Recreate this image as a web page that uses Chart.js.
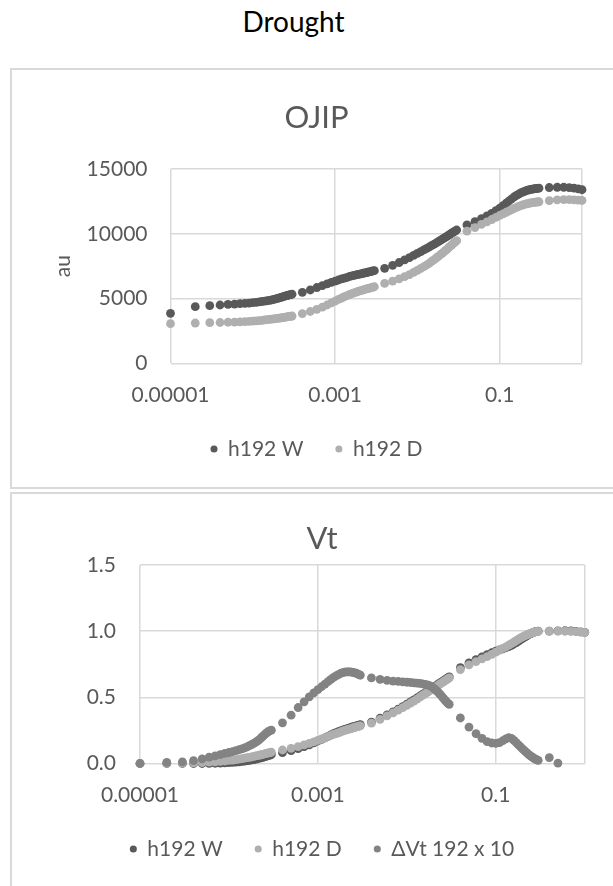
<!DOCTYPE html>
<html>
<head>
<meta charset="utf-8">
<title>Drought</title>
<script src="https://cdn.jsdelivr.net/npm/chart.js@4.4.1/dist/chart.umd.min.js"></script>
<style>
    body { margin: 0; width: 613px; height: 886px; overflow: hidden; background: #fff; position: relative; font-family: Lato, sans-serif; }
    #pageTitle { position: absolute; top: 1px; left: 0; width: 587px; text-align: center; font-size: 28px; line-height: 40px; color: #000; }
    .panel { position: absolute; left: 10px; width: 640px; border: 2px solid #d9d9d9; box-sizing: border-box; }
    #panelTop { top: 68px; height: 421px; }
    #panelBottom { top: 492px; height: 420px; }
    canvas { position: absolute; left: 0; top: 0; }
</style>
</head>
<body>
<div id="pageTitle">Drought</div>
<div class="panel" id="panelTop"><canvas id="ojipChart" width="601" height="417"></canvas></div>
<div class="panel" id="panelBottom"><canvas id="vtChart" width="601" height="392"></canvas></div>

<script>
// time points (s): 10 us steps to 0.3 ms, 0.1 ms to 3 ms, 1 ms to 30 ms, 10 ms to 0.3 s, 0.1 s to 1 s
const timeSec = [
    0.00001, 0.00002, 0.00003, 0.00004, 0.00005, 0.00006, 0.00007, 0.00008, 0.00009,
    0.0001, 0.00011, 0.00012, 0.00013, 0.00014, 0.00015, 0.00016, 0.00017, 0.00018, 0.00019,
    0.0002, 0.00021, 0.00022, 0.00023, 0.00024, 0.00025, 0.00026, 0.00027, 0.00028, 0.00029,
    0.0003,
    0.0004, 0.0005, 0.0006, 0.0007, 0.0008, 0.0009,
    0.001, 0.0011, 0.0012, 0.0013, 0.0014, 0.0015, 0.0016, 0.0017, 0.0018, 0.0019,
    0.002, 0.0021, 0.0022, 0.0023, 0.0024, 0.0025, 0.0026, 0.0027, 0.0028, 0.0029,
    0.003,
    0.004, 0.005, 0.006, 0.007, 0.008, 0.009,
    0.01, 0.011, 0.012, 0.013, 0.014, 0.015, 0.016, 0.017, 0.018, 0.019,
    0.02, 0.021, 0.022, 0.023, 0.024, 0.025, 0.026, 0.027, 0.028, 0.029,
    0.03,
    0.04, 0.05, 0.06, 0.07, 0.08, 0.09,
    0.1, 0.11, 0.12, 0.13, 0.14, 0.15, 0.16, 0.17, 0.18, 0.19,
    0.2, 0.21, 0.22, 0.23, 0.24, 0.25, 0.26, 0.27, 0.28, 0.29,
    0.3,
    0.4, 0.5, 0.6, 0.7, 0.8, 0.9, 1
];

// OJIP fluorescence (au)
const ojipW = [
    3860, 4370, 4450, 4500, 4550, 4570, 4600, 4630, 4650,
    4680, 4710, 4740, 4770, 4800, 4830, 4860, 4900, 4940, 4970,
    5010, 5050, 5090, 5130, 5170, 5200, 5230, 5260, 5290, 5310,
    5330,
    5480, 5660, 5850, 6000, 6130, 6250,
    6350, 6430, 6510, 6580, 6640, 6700, 6750, 6790, 6830, 6860,
    6890, 6920, 6950, 6980, 7000, 7030, 7060, 7080, 7110, 7130,
    7150,
    7330, 7560, 7780, 7980, 8160, 8330,
    8480, 8620, 8750, 8870, 8990, 9100, 9200, 9300, 9400, 9490,
    9580, 9660, 9740, 9820, 9900, 9970, 10040, 10110, 10170, 10230,
    10290,
    10680, 10930, 11170, 11380, 11580, 11780,
    11970, 12170, 12360, 12540, 12700, 12840, 12960, 13060, 13150, 13220,
    13280, 13330, 13370, 13400, 13430, 13450, 13470, 13490, 13500, 13510,
    13520,
    13570, 13590, 13590, 13560, 13520, 13470, 13400
];
const ojipD = [
    3060, 3110, 3140, 3150, 3170, 3180, 3200, 3220, 3240,
    3260, 3280, 3300, 3320, 3350, 3370, 3390, 3410, 3430, 3450,
    3470, 3490, 3510, 3530, 3550, 3560, 3580, 3600, 3620, 3630,
    3650,
    3840, 4000, 4170, 4340, 4500, 4660,
    4800, 4930, 5040, 5140, 5230, 5310, 5380, 5440, 5500, 5550,
    5590, 5630, 5670, 5710, 5740, 5770, 5800, 5830, 5860, 5880,
    5910,
    6170, 6350, 6520, 6690, 6850, 7020,
    7180, 7320, 7460, 7600, 7740, 7880, 8010, 8140, 8260, 8380,
    8490, 8600, 8710, 8820, 8930, 9030, 9130, 9220, 9310, 9390,
    9470,
    10200, 10480, 10720, 10920, 11100, 11260,
    11410, 11540, 11660, 11770, 11870, 11960, 12040, 12110, 12170, 12220,
    12260, 12300, 12330, 12360, 12380, 12400, 12420, 12440, 12450, 12460,
    12470,
    12560, 12610, 12640, 12640, 12620, 12600, 12570
];

// relative variable fluorescence Vt
const vtW = [
    0, 0, 0, 0, 0, 0.001, 0.002, 0.003, 0.005,
    0.007, 0.009, 0.011, 0.013, 0.016, 0.018, 0.021, 0.024, 0.027, 0.030,
    0.033, 0.036, 0.040, 0.043, 0.047, 0.050, 0.054, 0.057, 0.061, 0.064,
    0.068,
    0.082, 0.097, 0.112, 0.127, 0.141, 0.156,
    0.170, 0.182, 0.194, 0.205, 0.216, 0.226, 0.233, 0.240, 0.246, 0.252,
    0.258, 0.262, 0.266, 0.270, 0.274, 0.278, 0.281, 0.284, 0.287, 0.290,
    0.293,
    0.313, 0.342, 0.368, 0.390, 0.411, 0.430,
    0.448, 0.465, 0.480, 0.495, 0.509, 0.522, 0.534, 0.545, 0.556, 0.566,
    0.576, 0.585, 0.594, 0.603, 0.611, 0.619, 0.627, 0.634, 0.641, 0.648,
    0.655,
    0.725, 0.760, 0.785, 0.805, 0.822, 0.837,
    0.849, 0.858, 0.866, 0.875, 0.884, 0.893, 0.903, 0.914, 0.925, 0.936,
    0.946, 0.955, 0.963, 0.971, 0.978, 0.984, 0.989, 0.993, 0.996, 0.998,
    1.000,
    1.000, 1.002, 1.003, 1.002, 0.999, 0.995, 0.991
];
const vtD = [
    0, 0.001, 0.002, 0.004, 0.007, 0.010, 0.013, 0.016, 0.019,
    0.023, 0.026, 0.030, 0.033, 0.037, 0.040, 0.044, 0.047, 0.050, 0.054,
    0.057, 0.060, 0.063, 0.066, 0.069, 0.072, 0.075, 0.078, 0.080, 0.083,
    0.085,
    0.102, 0.115, 0.128, 0.140, 0.152, 0.164,
    0.175, 0.185, 0.194, 0.203, 0.212, 0.220, 0.226, 0.232, 0.238, 0.244,
    0.250, 0.254, 0.258, 0.262, 0.266, 0.270, 0.273, 0.276, 0.279, 0.282,
    0.285,
    0.305, 0.334, 0.360, 0.382, 0.403, 0.422,
    0.440, 0.457, 0.472, 0.487, 0.501, 0.514, 0.526, 0.537, 0.548, 0.558,
    0.568, 0.577, 0.586, 0.595, 0.603, 0.611, 0.619, 0.626, 0.633, 0.640,
    0.647,
    0.710, 0.745, 0.770, 0.790, 0.808, 0.825,
    0.841, 0.856, 0.870, 0.882, 0.894, 0.906, 0.918, 0.929, 0.940, 0.949,
    0.957, 0.964, 0.970, 0.976, 0.981, 0.985, 0.989, 0.992, 0.995, 0.997,
    0.998,
    1.000, 1.000, 1.000, 0.998, 0.996, 0.993, 0.990
];
// delta Vt x 10, shown up to 0.5 s (later values fall below the axis)
const deltaVt = [
    0, 0.008, 0.012, 0.022, 0.035, 0.048, 0.058, 0.067, 0.076,
    0.083, 0.090, 0.097, 0.104, 0.110, 0.118, 0.126, 0.135, 0.143, 0.152,
    0.161, 0.171, 0.181, 0.193, 0.205, 0.216, 0.226, 0.235, 0.242, 0.248,
    0.252,
    0.307, 0.365, 0.423, 0.466, 0.504, 0.534,
    0.558, 0.580, 0.600, 0.618, 0.635, 0.650, 0.662, 0.672, 0.680, 0.686,
    0.690, 0.692, 0.693, 0.692, 0.690, 0.688, 0.685, 0.682, 0.678, 0.672,
    0.667,
    0.647, 0.636, 0.628, 0.623, 0.620, 0.617,
    0.614, 0.612, 0.610, 0.608, 0.605, 0.602, 0.598, 0.594, 0.588, 0.580,
    0.570, 0.558, 0.545, 0.532, 0.518, 0.504, 0.490, 0.477, 0.465, 0.455,
    0.447,
    0.344, 0.275, 0.225, 0.190, 0.165, 0.155,
    0.152, 0.158, 0.172, 0.186, 0.195, 0.190, 0.175, 0.158, 0.140, 0.125,
    0.110, 0.097, 0.085, 0.073, 0.063, 0.054, 0.046, 0.039, 0.033, 0.028,
    0.024,
    0.045, 0.003
];

const xTicks = [0.00001, 0.001, 0.1, 1];
const ojipLabels = ['h192 W', 'h192 D'];
const vtLabels = ['h192 W', 'h192 D', '\u0394Vt 192 x 10'];
const seriesColors = ['#595959', '#afafaf', '#838383'];

Chart.defaults.font.family = 'Lato, sans-serif';
Chart.defaults.color = '#595959';

function toPoints(values) {
    return values.map((v, i) => ({ x: timeSec[i], y: v }));
}

function makeDataset(label, values, colorIndex) {
    return {
        label: label,
        data: toPoints(values),
        backgroundColor: seriesColors[colorIndex],
        borderColor: seriesColors[colorIndex],
        pointRadius: 4.4,
        pointHoverRadius: 4.4,
        pointBorderWidth: 0,
        clip: false,
        // later series sit on top, like the spreadsheet
        order: 10 - colorIndex
    };
}

function makeOptions(cfg) {
    return {
        responsive: false,
        animation: false,
        layout: { padding: cfg.padding },
        plugins: {
            title: {
                display: true,
                text: cfg.title,
                color: '#595959',
                font: { size: 31, weight: 'normal' },
                padding: cfg.titlePadding
            },
            legend: {
                position: 'bottom',
                labels: {
                    usePointStyle: true,
                    pointStyle: 'circle',
                    boxWidth: 7,
                    boxHeight: 5,
                    padding: 32,
                    color: '#595959',
                    font: { size: 21 },
                    sort: (a, b) => a.datasetIndex - b.datasetIndex
                }
            },
            tooltip: { enabled: false }
        },
        scales: {
            x: {
                type: 'logarithmic',
                min: 0.00001,
                max: 1,
                afterBuildTicks: (axis) => { axis.ticks = xTicks.map(v => ({ value: v })); },
                afterFit: (axis) => { axis.height = cfg.xHeight; },
                ticks: {
                    autoSkip: false,
                    maxRotation: 0,
                    padding: 19,
                    font: { size: 21 },
                    callback: (v) => v === 1 ? '' : String(v)
                },
                grid: { color: '#d9d9d9', lineWidth: 1.5, drawTicks: false },
                border: { display: false }
            },
            y: {
                min: 0,
                max: cfg.yMax,
                afterFit: (axis) => { axis.width = cfg.yWidth; },
                ticks: {
                    stepSize: cfg.yStep,
                    padding: cfg.yPad,
                    font: { size: 21 },
                    callback: cfg.yFormat
                },
                title: {
                    display: !!cfg.yTitle,
                    text: cfg.yTitle || '',
                    color: '#595959',
                    font: { size: 21 },
                    padding: { top: 0, bottom: 0 }
                },
                grid: { color: '#d9d9d9', lineWidth: 1.5, drawTicks: false },
                border: { display: false }
            }
        }
    };
}

// 1. OJIP
new Chart(document.getElementById('ojipChart'), {
    type: 'scatter',
    data: {
        datasets: [
            makeDataset(ojipLabels[0], ojipW, 0),
            makeDataset(ojipLabels[1], ojipD, 1)
        ]
    },
    options: makeOptions({
        title: 'OJIP',
        titlePadding: { top: 29, bottom: 32.8 },
        padding: { left: 39, right: 31, top: 0, bottom: 17.5 },
        xHeight: 43.2,
        yWidth: 119.5,
        yMax: 15000,
        yStep: 5000,
        yPad: 23,
        yTitle: 'au',
        yFormat: (v) => String(v)
    })
});

// 2. Vt
new Chart(document.getElementById('vtChart'), {
    type: 'scatter',
    data: {
        datasets: [
            makeDataset(vtLabels[0], vtW, 0),
            makeDataset(vtLabels[1], vtD, 1),
            makeDataset(vtLabels[2], deltaVt, 2)
        ]
    },
    options: makeOptions({
        title: 'Vt',
        titlePadding: { top: 25.9, bottom: 7.9 },
        padding: { left: 47.3, right: 28.3, top: 0, bottom: 16.5 },
        xHeight: 43,
        yWidth: 80.7,
        yMax: 1.5,
        yStep: 0.5,
        yPad: 24,
        yFormat: (v) => v.toFixed(1)
    })
});
</script>
</body>
</html>
